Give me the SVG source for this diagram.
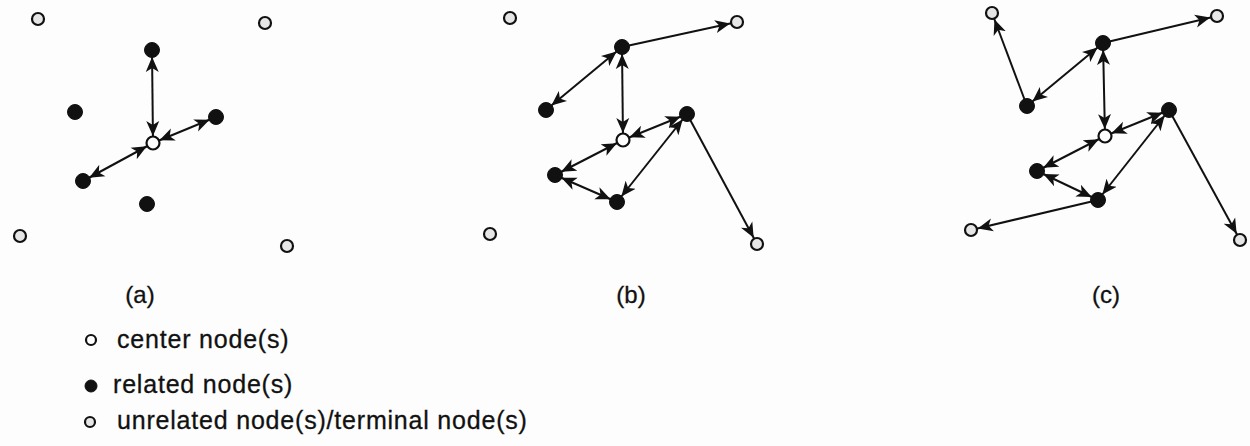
<svg xmlns="http://www.w3.org/2000/svg" width="1250" height="446" viewBox="0 0 1250 446">
<style>
.bg{fill:#fdfdfd}
.e{stroke:#111;stroke-width:2;fill:none;marker-end:url(#ah)}
.d{marker-start:url(#ah)}
.rel{fill:#111;stroke:#111;stroke-width:1}
.cen{fill:#fff;stroke:#111;stroke-width:2.2}
.unr{fill:#e6e6e6;stroke:#111;stroke-width:2.2}
.lbl{font-family:"Liberation Sans",Arial,sans-serif;font-size:24px;fill:#111;stroke:#111;stroke-width:0.3;text-anchor:middle}
.leg{font-family:"Liberation Sans",Arial,sans-serif;font-size:25px;fill:#111;stroke:#111;stroke-width:0.3;letter-spacing:0.8px}
</style>
<defs>
<marker id="ah" markerUnits="userSpaceOnUse" markerWidth="24" markerHeight="14" viewBox="0 0 24 14" refX="22" refY="7" orient="auto-start-reverse">
<path d="M0,0.5 L15,7 L0,13.5 L4,7 z" fill="#111"/>
</marker>
</defs>
<rect class="bg" x="0" y="0" width="1250" height="446"/>
<g id="connectors">
<line class="e d" x1="153" y1="143" x2="152" y2="50"/>
<line class="e d" x1="153" y1="143" x2="216" y2="117"/>
<line class="e d" x1="153" y1="143" x2="83" y2="181"/>

<line class="e" x1="622" y1="47" x2="737" y2="22"/>
<line class="e d" x1="622" y1="47" x2="546" y2="110"/>
<line class="e d" x1="622" y1="47" x2="623" y2="140"/>
<line class="e d" x1="623" y1="140" x2="687" y2="114"/>
<line class="e d" x1="623" y1="140" x2="555" y2="175"/>
<line class="e d" x1="555" y1="175" x2="617" y2="202"/>
<line class="e d" x1="687" y1="114" x2="617" y2="202"/>
<line class="e" x1="687" y1="114" x2="757" y2="244"/>

<line class="e" x1="1027" y1="106" x2="992" y2="13"/>
<line class="e d" x1="1103" y1="43" x2="1027" y2="106"/>
<line class="e" x1="1103" y1="43" x2="1217" y2="16"/>
<line class="e d" x1="1103" y1="43" x2="1105" y2="136"/>
<line class="e d" x1="1105" y1="136" x2="1169" y2="110"/>
<line class="e d" x1="1105" y1="136" x2="1037" y2="171"/>
<line class="e d" x1="1037" y1="171" x2="1098" y2="200"/>
<line class="e d" x1="1169" y1="110" x2="1098" y2="200"/>
<line class="e" x1="1169" y1="110" x2="1240" y2="240"/>
<line class="e" x1="1098" y1="200" x2="971" y2="230"/>
</g>
<g id="panel-a">
<circle id="a-u1" class="unr" cx="38" cy="19" r="6"/>
<circle id="a-u2" class="unr" cx="265" cy="23" r="6"/>
<circle id="a-u3" class="unr" cx="20" cy="236" r="6"/>
<circle id="a-u4" class="unr" cx="287" cy="246" r="6"/>
<circle id="a-r1" class="rel" cx="152" cy="50" r="7.5"/>
<circle id="a-r2" class="rel" cx="75" cy="112" r="7.5"/>
<circle id="a-r3" class="rel" cx="216" cy="117" r="7.5"/>
<circle id="a-r4" class="rel" cx="83" cy="181" r="7.5"/>
<circle id="a-r5" class="rel" cx="147" cy="204" r="7.5"/>
<circle id="a-c" class="cen" cx="153" cy="143" r="6.5"/>
<text id="a-label" class="lbl" x="140" y="303">(a)</text>
</g>
<g id="panel-b">
<circle id="b-u1" class="unr" cx="510" cy="18" r="6"/>
<circle id="b-u2" class="unr" cx="737" cy="22" r="6"/>
<circle id="b-u3" class="unr" cx="490" cy="234" r="6"/>
<circle id="b-u4" class="unr" cx="757" cy="244" r="6"/>
<circle id="b-r1" class="rel" cx="622" cy="47" r="7.5"/>
<circle id="b-r2" class="rel" cx="546" cy="110" r="7.5"/>
<circle id="b-r3" class="rel" cx="687" cy="114" r="7.5"/>
<circle id="b-r4" class="rel" cx="555" cy="175" r="7.5"/>
<circle id="b-r5" class="rel" cx="617" cy="202" r="7.5"/>
<circle id="b-c" class="cen" cx="623" cy="140" r="6.5"/>
<text id="b-label" class="lbl" x="631" y="303">(b)</text>
</g>
<g id="panel-c">
<circle id="c-u1" class="unr" cx="992" cy="13" r="6"/>
<circle id="c-u2" class="unr" cx="1217" cy="16" r="6"/>
<circle id="c-u3" class="unr" cx="971" cy="230" r="6"/>
<circle id="c-u4" class="unr" cx="1240" cy="240" r="6"/>
<circle id="c-r1" class="rel" cx="1103" cy="43" r="7.5"/>
<circle id="c-r2" class="rel" cx="1027" cy="106" r="7.5"/>
<circle id="c-r3" class="rel" cx="1169" cy="110" r="7.5"/>
<circle id="c-r4" class="rel" cx="1037" cy="171" r="7.5"/>
<circle id="c-r5" class="rel" cx="1098" cy="200" r="7.5"/>
<circle id="c-c" class="cen" cx="1105" cy="136" r="6.5"/>
<text id="c-label" class="lbl" x="1106" y="303">(c)</text>
</g>
<g id="legend">
<g id="leg-center"><circle class="cen" cx="91" cy="340" r="5"/><text class="leg" x="117" y="348">center node(s)</text></g>
<g id="leg-related"><circle class="rel" cx="91" cy="386" r="6"/><text class="leg" x="113" y="393">related node(s)</text></g>
<g id="leg-unrelated"><circle class="unr" cx="90" cy="422" r="5"/><text class="leg" x="117" y="429">unrelated node(s)/terminal node(s)</text></g>
</g>
</svg>
